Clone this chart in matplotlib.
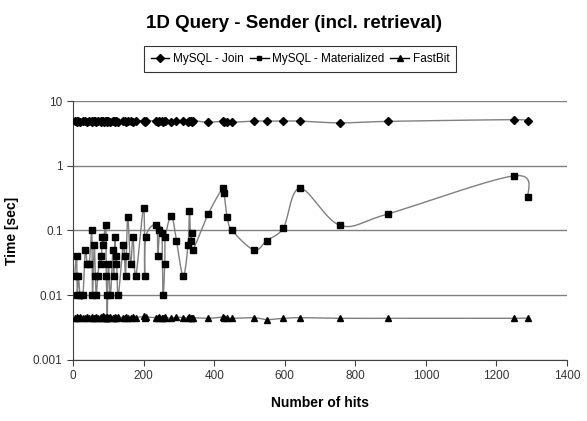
import numpy as np
import matplotlib
matplotlib.use("Agg")
import matplotlib.pyplot as plt

plt.rcParams['font.family'] = ['Liberation Sans', 'DejaVu Sans']

# number of hits per query
hits = [5, 10, 12, 15, 20, 28, 35, 40, 46, 53, 55, 60, 63, 66, 70, 78, 80, 83,
        86, 88, 93, 94, 96, 97, 100, 106, 113, 115, 119, 121, 123, 128, 142,
        146, 149, 155, 163, 170, 178, 200, 203, 206, 236, 240, 245, 252, 255,
        260, 262, 279, 293, 312, 326, 330, 333, 336, 339, 383, 424, 428, 437,
        451, 513, 549, 596, 643, 757, 892, 1250, 1290]

mysql_mat = [0.02, 0.04, 0.01, 0.02, 0.01, 0.01, 0.05, 0.03, 0.03, 0.1, 0.01,
             0.06, 0.02, 0.01, 0.02, 0.04, 0.03, 0.08, 0.06, 0.08, 0.12, 0.02,
             0.01, 0.0045, 0.03, 0.01, 0.05, 0.02, 0.08, 0.03, 0.04, 0.01,
             0.06, 0.04, 0.02, 0.16, 0.03, 0.08, 0.02, 0.22, 0.02, 0.08, 0.12,
             0.04, 0.1, 0.09, 0.01, 0.03, 0.08, 0.17, 0.07, 0.02, 0.06, 0.2,
             0.07, 0.09, 0.05, 0.18, 0.45, 0.38, 0.16, 0.1, 0.05, 0.07, 0.11,
             0.45, 0.12, 0.18, 0.70, 0.33]

mysql_join = [4.9, 4.8, 5.0, 4.9, 4.8, 5.0, 4.9, 4.8, 5.0, 4.9, 4.8, 5.0, 4.9,
              4.8, 5.0, 4.9, 4.8, 5.0, 4.9, 4.8, 5.0, 4.9, 4.8, 5.0, 4.9, 4.8,
              5.0, 4.9, 4.8, 5.0, 4.9, 4.8, 5.0, 4.9, 4.8, 5.0, 4.9, 4.8, 5.0,
              4.9, 4.8, 5.0, 4.9, 4.8, 5.0, 4.9, 4.8, 5.0, 4.9, 4.8, 5.0, 4.9,
              4.8, 5.0, 4.9, 4.8, 5.0, 4.7, 4.9, 4.8, 4.8, 4.7, 4.9, 4.9, 4.9,
              4.9, 4.6, 4.85, 5.15, 4.85]

fastbit = [0.0045, 0.0046, 0.0045, 0.0044, 0.0046, 0.0045, 0.0045, 0.0046,
           0.0045, 0.0044, 0.0046, 0.0045, 0.0045, 0.0046, 0.0045, 0.0044,
           0.0046, 0.0045, 0.0047, 0.0046, 0.0045, 0.0044, 0.0046, 0.0045,
           0.0045, 0.0046, 0.0045, 0.0044, 0.0046, 0.0045, 0.0045, 0.0046,
           0.0045, 0.0044, 0.0046, 0.0045, 0.0045, 0.0046, 0.0045, 0.0047,
           0.0045, 0.0046, 0.0045, 0.0044, 0.0046, 0.0045, 0.0045, 0.0046,
           0.0045, 0.0044, 0.0046, 0.0045, 0.0045, 0.0046, 0.0045, 0.0044,
           0.0045, 0.0044, 0.0046, 0.0045, 0.0045, 0.0044, 0.0045, 0.0042,
           0.0044, 0.0045, 0.0044, 0.0044, 0.0044, 0.0045]

series = [("MySQL - Join", mysql_join, "D"),
          ("MySQL - Materialized", mysql_mat, "s"),
          ("FastBit", fastbit, "^")]


def smooth(x, y, n=12):
    # Catmull-Rom through (x, log y), like Excel's smoothed lines
    px = np.asarray(x, float)
    py = np.log10(y)
    px = np.concatenate([[px[0]], px, [px[-1]]])
    py = np.concatenate([[py[0]], py, [py[-1]]])
    t = np.linspace(0, 1, n)[:-1]
    out_x, out_y = [], []
    for i in range(1, len(px) - 2):
        for arr, out in ((px, out_x), (py, out_y)):
            p0, p1, p2, p3 = arr[i - 1], arr[i], arr[i + 1], arr[i + 2]
            out.extend(0.5 * (2 * p1 + (-p0 + p2) * t
                              + (2 * p0 - 5 * p1 + 4 * p2 - p3) * t ** 2
                              + (-p0 + 3 * p1 - 3 * p2 + p3) * t ** 3))
    out_x.append(px[-2])
    out_y.append(py[-2])
    return np.array(out_x), 10 ** np.array(out_y)


fig = plt.figure(figsize=(5.87, 4.21), dpi=100)
ax = fig.add_axes([0.1244, 0.145, 0.8416, 0.615])

sizes = {"D": 4.5, "s": 4.3, "^": 5.0}
handles = []
for label, vals, mk in series:
    sx, sy = smooth(hits, vals)
    ax.plot(sx, sy, color="#7f7f7f", lw=1.0, zorder=2)
    ax.plot(hits, vals, ls="none", marker=mk, color="black",
            ms=sizes[mk], zorder=3)
    h, = ax.plot([], [], color="black", lw=1.0, marker=mk,
                 ms=sizes[mk] * 0.8, label=label)
    handles.append(h)

ax.set_yscale("log")
ax.set_ylim(0.001, 10)
ax.set_xlim(0, 1400)
ax.set_xticks(range(0, 1401, 200))
ax.set_yticks([0.001, 0.01, 0.1, 1, 10])
ax.set_yticklabels(["0.001", "0.01", "0.1", "1", "10"])
ax.yaxis.set_minor_locator(matplotlib.ticker.NullLocator())
ax.grid(axis="y", color="#808080", lw=1.0)
ax.set_axisbelow(True)
for s in ["top", "right"]:
    ax.spines[s].set_visible(False)
ax.spines["left"].set_color("#404040")
ax.spines["bottom"].set_color("#404040")
ax.tick_params(labelsize=8.5, colors="#404040", labelcolor="#333333",
               length=4, direction="out")

ax.set_xlabel("Number of hits", fontsize=10, fontweight="bold", labelpad=10)
ax.set_ylabel("Time [sec]", fontsize=10, fontweight="bold", labelpad=10)
fig.suptitle("1D Query - Sender (incl. retrieval)", fontsize=13.5,
             fontweight="bold", y=0.965)

leg = fig.legend(handles=handles, loc="center", ncol=3,
                 bbox_to_anchor=(0.511, 0.86), fontsize=8.5, frameon=True,
                 fancybox=False, edgecolor="black", handlelength=1.6,
                 handletextpad=0.3, columnspacing=0.5, borderpad=0.6)
leg.get_frame().set_linewidth(0.8)

fig.savefig("out.png", dpi=100)
